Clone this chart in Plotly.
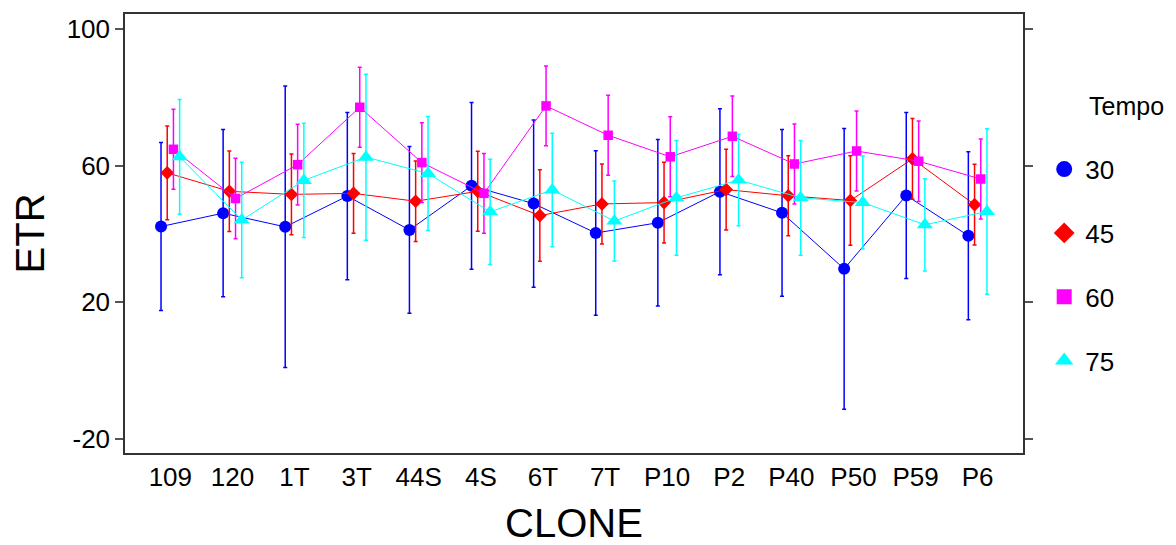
import plotly.graph_objects as go

clones = ["109", "120", "1T", "3T", "44S", "4S", "6T", "7T", "P10", "P2", "P40", "P50", "P59", "P6"]
tempos = ["30", "45", "60", "75"]

etr_30 = [42.2, 46.1, 42.1, 51.1, 41.2, 54.1, 48.9, 40.3, 43.3, 52.4, 46.2, 29.8, 51.3, 39.5]
err_30 = [24.6, 24.5, 41.2, 24.5, 24.4, 24.4, 24.5, 24.1, 24.4, 24.3, 24.4, 41.1, 24.3, 24.6]
etr_45 = [57.9, 52.5, 51.6, 51.9, 49.6, 52.5, 45.4, 48.8, 49.2, 53.0, 51.2, 49.8, 62.0, 48.6]
err_45 = [13.7, 11.8, 11.8, 11.7, 11.8, 11.7, 13.4, 11.7, 11.8, 11.8, 11.7, 13.1, 11.8, 11.8]
etr_60 = [64.8, 50.4, 60.3, 77.1, 60.9, 51.9, 77.5, 68.9, 62.6, 68.6, 60.5, 64.3, 61.3, 56.1]
err_60 = [11.7, 11.8, 11.8, 11.7, 11.7, 11.7, 11.7, 11.7, 11.7, 11.8, 11.7, 11.7, 11.8, 11.7]
etr_75 = [62.6, 44.1, 55.7, 62.5, 57.7, 46.5, 52.9, 43.8, 50.6, 55.8, 50.6, 49.2, 42.7, 46.6]
err_75 = [16.8, 16.9, 16.7, 24.3, 16.7, 15.4, 16.6, 11.7, 16.8, 13.4, 16.8, 13.6, 13.5, 24.2]

y_ticks = [-20, 20, 60, 100]
y_tick_labels = ["-20", "20", "60", "100"]

series = [
    ("30", etr_30, err_30, "#0000FF", "circle", 12),
    ("45", etr_45, err_45, "#FF0000", "diamond", 10.5),
    ("60", etr_60, err_60, "#FF00FF", "square", 9.5),
    ("75", etr_75, err_75, "#00FFFF", "triangle-up", 14),
]
legend_sizes = {"30": 16, "45": 16, "60": 15, "75": 16}

FONT = "Arial, Liberation Sans, sans-serif"

fig = go.Figure()
for name, vals, errs, col, sym, size in series:
    fig.add_trace(go.Scatter(
        x=clones, y=vals, name=name, mode="lines+markers",
        offsetgroup=name, legendgroup=name, showlegend=False,
        line=dict(color=col, width=1),
        marker=dict(color=col, symbol=sym, size=size, line=dict(width=0)),
        error_y=dict(type="data", array=errs, visible=True, color=col, thickness=1.5, width=2),
    ))
# legend keys (markers only, as in the reference)
for name, vals, errs, col, sym, size in series:
    fig.add_trace(go.Scatter(
        x=[None], y=[None], name=name, mode="markers",
        offsetgroup=name, legendgroup=name, showlegend=True,
        marker=dict(color=col, symbol=sym, size=legend_sizes[name], line=dict(width=0)),
    ))

fig.update_layout(
    template="none",
    width=1168, height=537,
    margin=dict(l=117, r=153, t=6, b=92, pad=0),
    paper_bgcolor="white", plot_bgcolor="white",
    scattermode="group", scattergap=0.6,
    font=dict(family=FONT, color="black"),
    legend=dict(
        font=dict(size=26), x=1.0225, xanchor="left", y=0.70, yanchor="top",
        tracegroupgap=27, itemwidth=32, bgcolor="rgba(0,0,0,0)",
    ),
    annotations=[dict(
        text="Tempo", xref="paper", yref="paper", x=1.0715, y=0.79,
        xanchor="left", yanchor="middle", showarrow=False, font=dict(size=25),
    )],
)
fig.update_xaxes(
    type="category", categoryorder="array", categoryarray=clones,
    range=[-0.73, 13.73], showgrid=False, zeroline=False, automargin=False,
    showline=True, linecolor="#333333", linewidth=1.5, mirror=True,
    ticks="", tickfont=dict(size=26),
    title=dict(text="CLONE", font=dict(size=40), standoff=23),
)
fig.update_yaxes(
    range=[-24.1, 104.4], tickvals=y_ticks, ticktext=y_tick_labels,
    showgrid=False, zeroline=False, automargin=False,
    showline=True, linecolor="#333333", linewidth=1.5, mirror="ticks",
    ticks="outside", ticklen=8, tickcolor="#555555", tickwidth=1.5, tickfont=dict(size=26),
    title=dict(text="ETR", font=dict(size=40), standoff=14),
)

fig.write_html("out.html")
